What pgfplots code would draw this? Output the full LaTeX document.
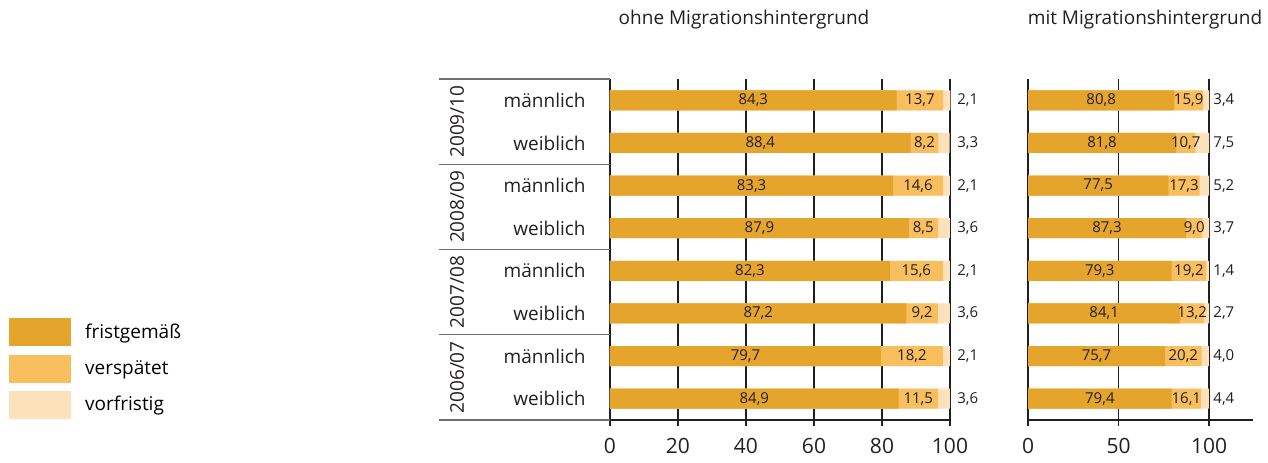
\documentclass[border=0pt]{standalone}
\usepackage{pgfplots}
\pgfplotsset{compat=1.18}
\usepackage{pgfplotstable}
\usepackage{fontspec}
\setmainfont{Open Sans}
\definecolor{frist}{HTML}{E5A42B}
\definecolor{spaet}{HTML}{F9BE5D}
\definecolor{vorf}{HTML}{FDE1B9}
\definecolor{ink}{HTML}{231F20}
\definecolor{sep}{HTML}{6D6E71}

% y: 0 = 2006/07 weiblich ... 7 = 2009/10 maennlich
\pgfplotstableread{
y  a    b    c
7  84.3 13.7 2.1
6  88.4 8.2  3.3
5  83.3 14.6 2.1
4  87.9 8.5  3.6
3  82.3 15.6 2.1
2  87.2 9.2  3.6
1  79.7 18.2 2.1
0  84.9 11.5 3.6
}\ohne
\pgfplotstableread{
y  a    b    c
7  80.8 15.9 3.4
6  81.8 10.7 7.5
5  77.5 17.3 5.2
4  87.3 9.0  3.7
3  79.3 19.2 1.4
2  84.1 13.2 2.7
1  75.7 20.2 4.0
0  79.4 16.1 4.4
}\mit

\pgfplotsset{
  panel/.style={
    scale only axis, height=170.5pt, ymin=-0.5, ymax=7.5, xmin=0,
    axis x line*=bottom, axis y line*=left,
    axis line style={ink, line width=0.9pt},
    xmajorgrids, grid style={ink, line width=0.7pt},
    tick align=outside, major tick length=3pt,
    xtick style={ink, line width=0.7pt}, ytick style={draw=none},
    xticklabel style={font=\fontsize{10.5}{12}\selectfont, text=ink, yshift=-2.5pt},
    /pgf/number format/assume math mode=true,
    clip=false,
  },
  seg/.style={xbar, bar width=10pt, bar shift=0pt, draw=none, fill=#1, forget plot},
  val/.style={only marks, mark=none, forget plot, point meta=explicit,
    nodes near coords={\pgfmathprintnumber[fixed,fixed zerofill,precision=1,use comma]{\pgfplotspointmeta}},
    every node near coord/.append style={font=\fontsize{7.5}{9}\selectfont, text=ink, inner sep=0pt, #1}},
}

\begin{document}
\begin{tikzpicture}
\useasboundingbox (-305pt,-21pt) rectangle (329pt,210pt);

\begin{axis}[panel, at={(0pt,0pt)}, anchor=south west, width=170pt, xmax=100,
  xtick={0,20,...,100},
  ytick={0,...,7},
  yticklabels={weiblich,männlich,weiblich,männlich,weiblich,männlich,weiblich,männlich},
  yticklabel style={font=\fontsize{9.5}{11}\selectfont, text=ink, anchor=east, inner sep=0pt, xshift=-9pt},
  legend cell align=left,
  legend style={draw=none, fill=none, at={(-1.7676,0.2991)}, anchor=north west,
    inner sep=0pt, row sep=4.3pt, font=\fontsize{9.5}{11}\selectfont,
    /tikz/every odd column/.append style={column sep=5pt}},
]
\addplot[seg=vorf] table[x expr=\thisrow{a}+\thisrow{b}+\thisrow{c}, y=y]{\ohne};
\addplot[seg=spaet] table[x expr=\thisrow{a}+\thisrow{b}, y=y]{\ohne};
\addplot[seg=frist] table[x=a, y=y]{\ohne};
\addplot[val={anchor=center}] table[x expr=\thisrow{a}/2, y=y, meta=a]{\ohne};
\addplot[val={anchor=center}] table[x expr=\thisrow{a}+\thisrow{b}/2, y=y, meta=b]{\ohne};
\addplot[val={anchor=west, xshift=3.5pt}] table[x expr=100, y=y, meta=c]{\ohne};

\addlegendimage{legend image code/.code={\fill[frist] (0pt,-6.75pt) rectangle (30.5pt,6.75pt);}}
\addlegendentry{fristgemäß}
\addlegendimage{legend image code/.code={\fill[spaet] (0pt,-6.75pt) rectangle (30.5pt,6.75pt);}}
\addlegendentry{verspätet}
\addlegendimage{legend image code/.code={\fill[vorf] (0pt,-6.75pt) rectangle (30.5pt,6.75pt);}}
\addlegendentry{vorfristig}

\pgfplotsinvokeforeach{7.5,5.5,3.5,1.5,-0.5}{
  \draw[sep, line width=0.7pt] (axis cs:0,#1) -- ++(-85.5pt,0pt);
}
\node[rotate=90, font=\fontsize{9.5}{11}\selectfont, text=ink] at ([xshift=-76.5pt]axis cs:0,6.5) {2009/10};
\node[rotate=90, font=\fontsize{9.5}{11}\selectfont, text=ink] at ([xshift=-76.5pt]axis cs:0,4.5) {2008/09};
\node[rotate=90, font=\fontsize{9.5}{11}\selectfont, text=ink] at ([xshift=-76.5pt]axis cs:0,2.5) {2007/08};
\node[rotate=90, font=\fontsize{9.5}{11}\selectfont, text=ink] at ([xshift=-76.5pt]axis cs:0,0.5) {2006/07};
\end{axis}

\begin{axis}[panel, at={(209pt,0pt)}, anchor=south west, width=112.5pt, xmax=124.3,
  xtick={0,50,100}, ytick=\empty]
\addplot[seg=vorf] table[x expr=\thisrow{a}+\thisrow{b}+\thisrow{c}, y=y]{\mit};
\addplot[seg=spaet] table[x expr=\thisrow{a}+\thisrow{b}, y=y]{\mit};
\addplot[seg=frist] table[x=a, y=y]{\mit};
\addplot[val={anchor=center}] table[x expr=\thisrow{a}/2, y=y, meta=a]{\mit};
\addplot[val={anchor=center}] table[x expr=\thisrow{a}+\thisrow{b}/2, y=y, meta=b]{\mit};
\addplot[val={anchor=west, xshift=2pt}] table[x expr=100, y=y, meta=c]{\mit};
\end{axis}

\node[font=\fontsize{9.5}{11}\selectfont, text=ink] at (67pt,200pt) {ohne Migrationshintergrund};
\node[font=\fontsize{9.5}{11}\selectfont, text=ink] at (267.5pt,200pt) {mit Migrationshintergrund};
\end{tikzpicture}
\end{document}
